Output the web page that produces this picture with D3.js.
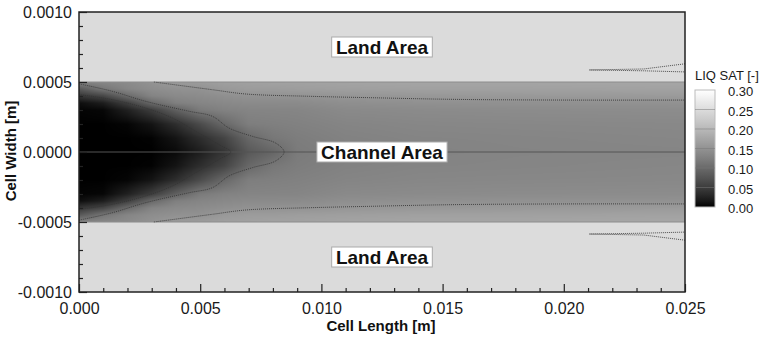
<!DOCTYPE html>
<html>
<head>
<meta charset="utf-8">
<script src="https://cdn.jsdelivr.net/npm/d3@7"></script>
<style>
  body { margin: 0; background: white; }
  #saettigung { width: 762px; height: 339px; }
</style>
</head>
<body>
<div id="saettigung"></div>
<script>
// grid positions along the channel [m]
const xs = [0, 0.001, 0.002, 0.003, 0.004, 0.005, 0.006, 0.007, 0.008, 0.009, 0.011, 0.014, 0.018, 0.025];
// distance from the channel centre line [m], mirrored for the lower half
const halfWidths = [0, 0.0001, 0.0002, 0.0003, 0.00035, 0.0004, 0.00045, 0.0005];

// liquid saturation in the channel, one row per halfWidths entry
const channelSat = [
  [0.000, 0.000, 0.000, 0.000, 0.005, 0.020, 0.0425, 0.080, 0.095, 0.120, 0.127, 0.130, 0.132, 0.133],
  [0.000, 0.000, 0.000, 0.001, 0.0125, 0.035, 0.058, 0.097, 0.116, 0.123, 0.129, 0.132, 0.133, 0.135],
  [0.000, 0.000, 0.002, 0.0125, 0.035, 0.065, 0.098, 0.124, 0.126, 0.128, 0.1325, 0.135, 0.136, 0.137],
  [0.0015, 0.003, 0.0225, 0.050, 0.088, 0.120, 0.129, 0.132, 0.1325, 0.133, 0.1385, 0.140, 0.141, 0.142],
  [0.0075, 0.020, 0.052, 0.098, 0.126, 0.133, 0.137, 0.140, 0.140, 0.140, 0.145, 0.147, 0.148, 0.148],
  [0.0425, 0.060, 0.100, 0.131, 0.1385, 0.141, 0.1457, 0.149, 0.1496, 0.150, 0.154, 0.156, 0.158, 0.160],
  [0.080, 0.114, 0.133, 0.143, 0.148, 0.149, 0.158, 0.162, 0.162, 0.164, 0.166, 0.168, 0.168, 0.170],
  [0.131, 0.136, 0.140, 0.150, 0.160, 0.162, 0.166, 0.168, 0.170, 0.170, 0.172, 0.174, 0.174, 0.176]
];
// saturation under the land, per xs entry
const landSat = [0.248, 0.248, 0.248, 0.248, 0.248, 0.248, 0.248, 0.248, 0.248, 0.248, 0.248, 0.248, 0.249, 0.250];

// contour lines (upper half, [x, y]); levels 0.05, 0.10, 0.15
const contourLow = [[0, 0.00041], [0.00137, 0.000374], [0.00275, 0.000314], [0.00385, 0.000243], [0.00481, 0.000148], [0.00578, 0.000052], [0.00626, 0]];
const contourMid = [[0, 0.000487], [0.00137, 0.000434], [0.00275, 0.000362], [0.00454, 0.000291], [0.0055, 0.000255], [0.00619, 0.000171], [0.00715, 0.000112], [0.00811, 0.000064], [0.00846, 0]];
const contourHigh = [[0.00309, 0.0005], [0.0055, 0.000445], [0.0069, 0.000414], [0.0095, 0.000398], [0.012, 0.000388], [0.0155, 0.000376], [0.02, 0.000371], [0.025, 0.000371]];
const contourLand = [[0.025, 0.00063], [0.0233, 0.000593], [0.02105, 0.000586], [0.0233, 0.00058], [0.025, 0.000572]];

// axes and legend
const xTicks = [0, 0.005, 0.010, 0.015, 0.020, 0.025];
const yTicks = [-0.001, -0.0005, 0, 0.0005, 0.001];
const legendLevels = [0, 0.05, 0.10, 0.15, 0.20, 0.25, 0.30];
const areaLabels = ['Land Area', 'Channel Area', 'Land Area'];
const areaLabelX = [0.0125, 0.0125, 0.0125];
const areaLabelY = [0.00075, 0, -0.00075];

const channelHalf = 0.0005;
const fontFamily = '"Liberation Sans", Arial, Helvetica, sans-serif';

const container = document.getElementById('saettigung');
const size = {width: 762, height: 339};
const margin = {top: 12, left: 79, right: 77, bottom: 47};
const plotW = size.width - margin.left - margin.right;
const plotH = size.height - margin.top - margin.bottom;

const svg = d3.select(container).append('svg')
  .attr('width', size.width)
  .attr('height', size.height)
  .style('font-family', fontFamily);

svg.append('rect')
  .attr('width', size.width)
  .attr('height', size.height)
  .attr('fill', 'white');

//scales
const x = d3.scaleLinear().domain([0, 0.025]).range([margin.left, margin.left + plotW]);
const y = d3.scaleLinear().domain([-0.001, 0.001]).range([margin.top + plotH, margin.top]);
//grey ramp of the flood, slightly brightened towards the top
const grayLevel = d3.scalePow().exponent(0.8).domain([0, 0.3]).range([0, 255]).clamp(true);
const gray = v => { const g = Math.round(grayLevel(v)); return d3.rgb(g, g, g); };

//field value at a point: bilinear between grid nodes
function saturationAt(px, py) {
  const ix = Math.max(0, Math.min(xs.length - 2, d3.bisectRight(xs, px) - 1));
  const tx = Math.max(0, Math.min(1, (px - xs[ix]) / (xs[ix + 1] - xs[ix])));
  const ay = Math.abs(py);
  if (ay > channelHalf) {
    return landSat[ix] + (landSat[ix + 1] - landSat[ix]) * tx;
  }
  const iy = Math.max(0, Math.min(halfWidths.length - 2, d3.bisectRight(halfWidths, ay) - 1));
  const ty = Math.max(0, Math.min(1, (ay - halfWidths[iy]) / (halfWidths[iy + 1] - halfWidths[iy])));
  const a = channelSat[iy][ix] + (channelSat[iy][ix + 1] - channelSat[iy][ix]) * tx;
  const b = channelSat[iy + 1][ix] + (channelSat[iy + 1][ix + 1] - channelSat[iy + 1][ix]) * tx;
  return a + (b - a) * ty;
}

//paint the flood onto a canvas and put it in the svg
const canvas = document.createElement('canvas');
canvas.width = plotW;
canvas.height = plotH;
const ctx = canvas.getContext('2d');
const img = ctx.createImageData(plotW, plotH);
for (let j = 0; j < plotH; j++) {
  const py = y.invert(margin.top + j + 0.5);
  for (let i = 0; i < plotW; i++) {
    const px = x.invert(margin.left + i + 0.5);
    const g = Math.round(grayLevel(saturationAt(px, py)));
    const k = (j * plotW + i) * 4;
    img.data[k] = g;
    img.data[k + 1] = g;
    img.data[k + 2] = g;
    img.data[k + 3] = 255;
  }
}
ctx.putImageData(img, 0, 0);

svg.append('image')
  .attr('x', margin.left)
  .attr('y', margin.top)
  .attr('width', plotW)
  .attr('height', plotH)
  .attr('href', canvas.toDataURL());

const plot = svg.append('g').attr('id', 'plot');

//channel boundaries and centre line
plot.selectAll('line.grenze')
  .data([channelHalf, -channelHalf])
  .join('line')
  .attr('class', 'grenze')
  .attr('x1', x(0)).attr('x2', x(0.025))
  .attr('y1', d => y(d)).attr('y2', d => y(d))
  .attr('stroke', '#8c8c8c')
  .attr('stroke-width', 1);

plot.append('line')
  .attr('x1', x(0)).attr('x2', x(0.025))
  .attr('y1', y(0)).attr('y2', y(0))
  .attr('stroke', '#555')
  .attr('stroke-width', 1);

//dotted contour lines
const mirror = pts => pts.map(([a, b]) => [a, -b]);
const closedTip = pts => pts.concat(mirror(pts.slice(0, -1)).reverse());
const smoothLine = d3.line().x(d => x(d[0])).y(d => y(d[1])).curve(d3.curveCatmullRom);
const straightLine = d3.line().x(d => x(d[0])).y(d => y(d[1]));

const contourPaths = [
  smoothLine(closedTip(contourLow)),
  smoothLine(closedTip(contourMid)),
  smoothLine(contourHigh),
  smoothLine(mirror(contourHigh)),
  straightLine(contourLand),
  straightLine(mirror(contourLand))
];

plot.selectAll('path.kontur')
  .data(contourPaths)
  .join('path')
  .attr('class', 'kontur')
  .attr('d', d => d)
  .attr('fill', 'none')
  .attr('stroke', '#333')
  .attr('stroke-width', 1)
  .attr('stroke-opacity', 0.85)
  .attr('stroke-dasharray', '1,1');

//area labels in white boxes
const labels = plot.selectAll('g.bereich')
  .data(areaLabels)
  .join('g')
  .attr('class', 'bereich')
  .attr('transform', (d, i) => `translate(${x(areaLabelX[i])},${y(areaLabelY[i])})`);

labels.append('text')
  .attr('text-anchor', 'middle')
  .attr('dy', '0.36em')
  .attr('font-size', '19px')
  .attr('font-weight', 'bold')
  .attr('fill', '#111')
  .text(d => d);

labels.each(function () {
  const g = d3.select(this);
  const w = g.select('text').node().getBBox().width;
  g.insert('rect', 'text')
    .attr('x', -w / 2 - 4)
    .attr('y', -10)
    .attr('width', w + 8)
    .attr('height', 20)
    .attr('fill', 'white')
    .attr('stroke', '#aaa')
    .attr('stroke-width', 1);
});

//axes, ticks point inwards
const yAxis = svg.append('g')
  .attr('transform', `translate(${margin.left},0)`)
  .call(d3.axisLeft(y).tickValues(yTicks).tickSize(-8).tickPadding(7).tickFormat(d => d.toFixed(4)));
const yMinor = svg.append('g')
  .attr('transform', `translate(${margin.left},0)`)
  .call(d3.axisLeft(y).tickValues(d3.range(-10, 11).filter(k => k % 5 != 0).map(k => k * 0.0001)).tickSize(-4).tickFormat(''));

const xAxis = svg.append('g')
  .attr('transform', `translate(0,${margin.top + plotH})`)
  .call(d3.axisBottom(x).tickValues(xTicks).tickSize(-8).tickPadding(11).tickFormat(d => d.toFixed(3)));
const xMinor = svg.append('g')
  .attr('transform', `translate(0,${margin.top + plotH})`)
  .call(d3.axisBottom(x).tickValues(d3.range(1, 25).filter(k => k % 5 != 0).map(k => k * 0.001)).tickSize(-4).tickFormat(''));

[yAxis, yMinor, xAxis, xMinor].forEach(a => {
  a.select('.domain').remove();
  a.selectAll('line').attr('stroke', '#222').attr('stroke-width', 1.2);
  a.selectAll('text')
    .attr('font-family', fontFamily)
    .attr('font-size', '16px')
    .attr('fill', '#1a1a1a');
});

//frame
svg.append('rect')
  .attr('x', margin.left)
  .attr('y', margin.top)
  .attr('width', plotW)
  .attr('height', plotH)
  .attr('fill', 'none')
  .attr('stroke', '#222')
  .attr('stroke-width', 1.5);

//axis titles
svg.append('text')
  .attr('x', margin.left + plotW / 2 - 1)
  .attr('y', 331)
  .attr('text-anchor', 'middle')
  .attr('font-size', '15px')
  .attr('font-weight', 'bold')
  .attr('fill', '#111')
  .text('Cell Length [m]');

svg.append('text')
  .attr('transform', `translate(16,${y(0) - 1}) rotate(-90)`)
  .attr('text-anchor', 'middle')
  .attr('font-size', '15px')
  .attr('font-weight', 'bold')
  .attr('fill', '#111')
  .text('Cell Width [m]');

//legend
const legend = svg.append('g').attr('id', 'legende');
const legendY = d3.scaleLinear().domain([0, 0.3]).range([207, 90]);
const legendX = 695, legendW = 20;

const grad = svg.append('defs').append('linearGradient')
  .attr('id', 'grauverlauf')
  .attr('x1', 0).attr('y1', 1).attr('x2', 0).attr('y2', 0);
grad.selectAll('stop')
  .data(d3.range(0, 21).map(k => k * 0.015))
  .join('stop')
  .attr('offset', d => d / 0.3)
  .attr('stop-color', d => gray(d));

legend.append('rect')
  .attr('x', legendX)
  .attr('y', legendY(0.3))
  .attr('width', legendW)
  .attr('height', legendY(0) - legendY(0.3))
  .attr('fill', 'url(#grauverlauf)')
  .attr('stroke', '#bbb')
  .attr('stroke-width', 1);

legend.selectAll('line')
  .data(legendLevels.slice(1, -1))
  .join('line')
  .attr('x1', legendX).attr('x2', legendX + legendW)
  .attr('y1', d => legendY(d)).attr('y2', d => legendY(d))
  .attr('stroke', '#777')
  .attr('stroke-opacity', 0.5);

legend.selectAll('text.wert')
  .data(legendLevels)
  .join('text')
  .attr('class', 'wert')
  .attr('x', 728)
  .attr('y', d => legendY(d) + 1.5)
  .attr('dy', '0.35em')
  .attr('font-size', '13px')
  .attr('fill', '#1a1a1a')
  .text(d => d.toFixed(2));

legend.append('text')
  .attr('x', legendX)
  .attr('y', 80)
  .attr('font-size', '13px')
  .attr('fill', '#1a1a1a')
  .text('LIQ SAT [-]');
</script>
</body>
</html>
